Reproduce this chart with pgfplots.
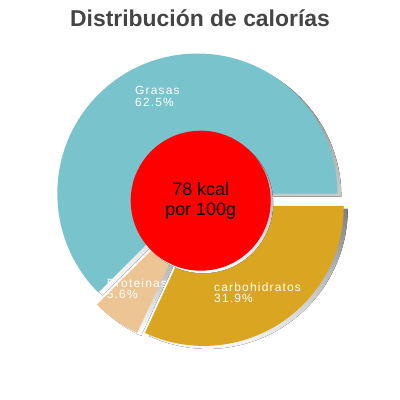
\documentclass[border=0pt]{standalone}
\usepackage{fontspec}
\setmainfont{Liberation Sans}
\newfontfamily\labelfont[LetterSpace=10]{Liberation Sans}
\usepackage{pgfplots}
\usepackage{pgfplotstable}
\pgfplotsset{compat=1.18}
\usetikzlibrary{calc}

\definecolor{grasas}{HTML}{79C3CC}
\definecolor{prot}{HTML}{EDC595}
\definecolor{carbo}{HTML}{DAA520}
\definecolor{shade}{HTML}{666666}
\definecolor{titlegray}{HTML}{444444}

% share of calories, percent
\pgfplotstableread{
part pct
Grasas 62.5
Proteinas 5.6
carbohidratos 31.9
}\calories

% one slice: start angle, end angle, mid angle, extra shift, fill
\newcommand\slice[5]{%
  \fill[#5] ($(axis cs:200,200)+(#3:7bp)+#4$) -- ++(#1:140bp)
    arc[start angle=#1,end angle=#2,radius=140bp] -- cycle;}

\begin{document}
\begin{tikzpicture}
  \pgfplotstablegetelem{0}{pct}\of\calories
  \pgfmathsetmacro\aA{3.6*\pgfplotsretval}
  \pgfplotstablegetelem{1}{pct}\of\calories
  \pgfmathsetmacro\aB{\aA+3.6*\pgfplotsretval}
  \pgfplotstablegetelem{2}{pct}\of\calories
  \pgfmathsetmacro\aC{\aB+3.6*\pgfplotsretval}
  \pgfmathsetmacro\mA{\aA/2}
  \pgfmathsetmacro\mB{(\aA+\aB)/2}
  \pgfmathsetmacro\mC{(\aB+\aC)/2}
  \begin{axis}[
    at={(0,0)}, anchor=south west,
    scale only axis,
    width=400bp, height=400bp,
    xmin=0, xmax=400, ymin=0, ymax=400,
    hide axis, clip=false
    ]
    % shadows
    \slice{0}{\aA}{\mA}{(4bp,-3bp)}{shade}
    \slice{\aA}{\aB}{\mB}{(4bp,-3bp)}{shade}
    \slice{\aB}{\aC}{\mC}{(4bp,-3bp)}{shade}
    % slices
    \slice{0}{\aA}{\mA}{(0,0)}{grasas}
    \slice{\aA}{\aB}{\mB}{(0,0)}{prot}
    \slice{\aB}{\aC}{\mC}{(0,0)}{carbo}
    % centre disc
    \fill[shade] (axis cs:203.2,196.8) circle[radius=70bp];
    \fill[red] (axis cs:200.7,199.3) circle[radius=70bp];
    \node[align=center, font=\fontsize{18}{19.5}\selectfont]
      at (axis cs:200.7,199.3) {78 kcal\\por 100g};
    % labels
    \node[anchor=north west, inner sep=0, align=left, text=white,
      font={\labelfont\fontsize{12}{11.5}\selectfont}]
      at (axis cs:135,314) {Grasas\\62.5\%};
    \node[anchor=north west, inner sep=0, align=left, text=white,
      font={\labelfont\fontsize{12}{11.5}\selectfont}]
      at (axis cs:214,117.7) {carbohidratos\\31.9\%};
    \node[anchor=north west, inner sep=0, align=left, text=white,
      font={\labelfont\fontsize{12}{11.5}\selectfont}]
      at (axis cs:106.7,121.7) {Proteinas\\5.6\%};
    % title
    \node[text=titlegray, font=\bfseries\fontsize{23}{23}\selectfont]
      at (axis cs:200,382) {Distribución de calorías};
  \end{axis}
  \pgfresetboundingbox
  \useasboundingbox (0,0) rectangle (400bp,400bp);
\end{tikzpicture}
\end{document}
